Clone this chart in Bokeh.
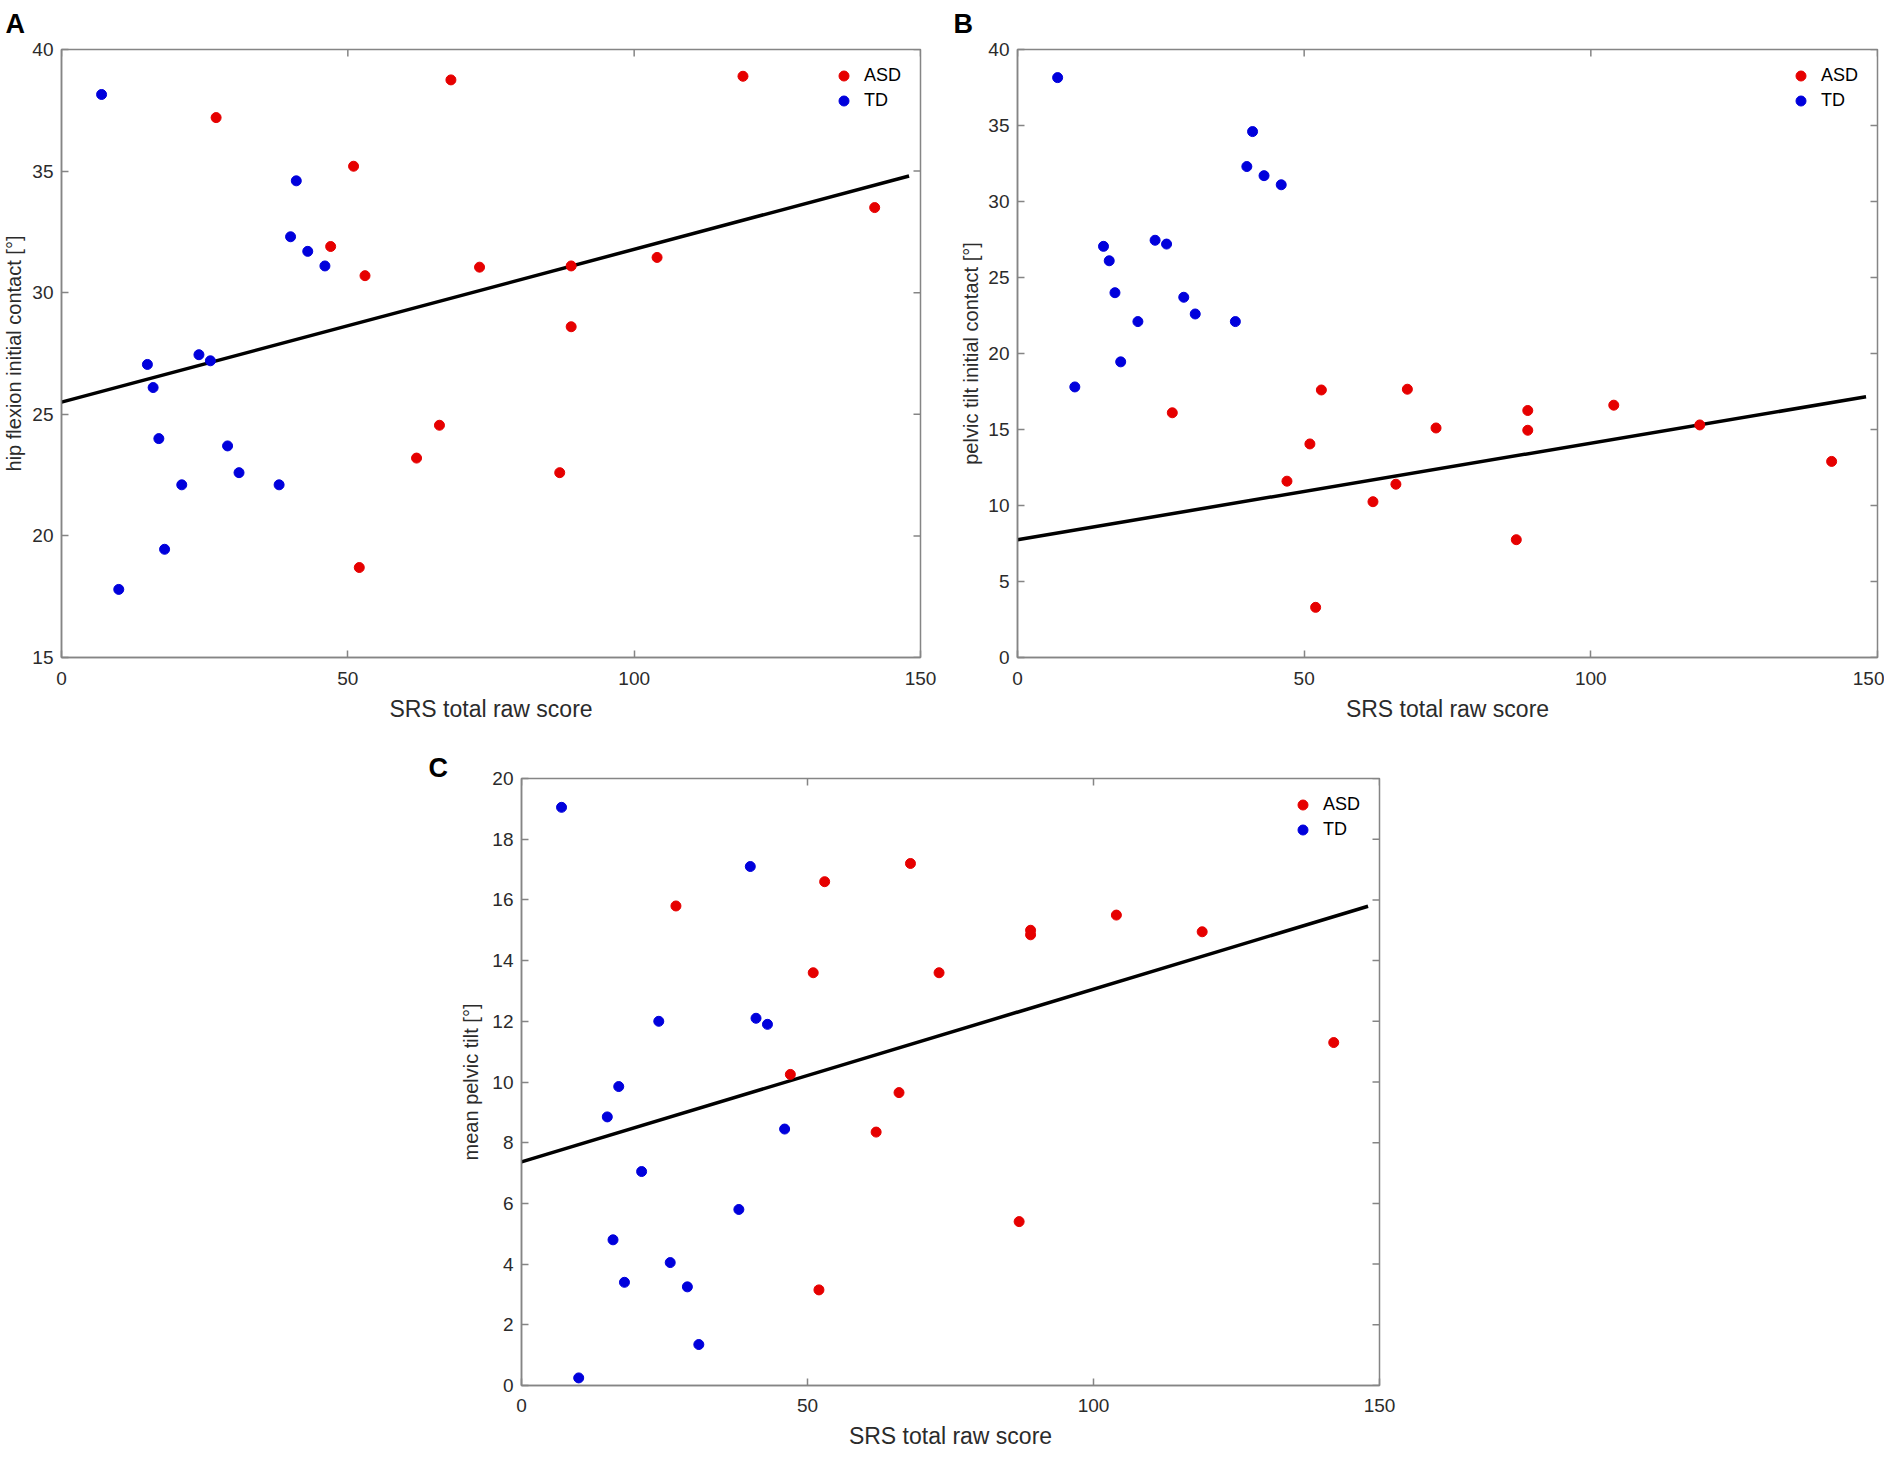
import math
from bokeh.plotting import figure
from bokeh.models import Range1d, Legend, LegendItem, Spacer, FixedTicker, Title
from bokeh.layouts import row, column
from bokeh.embed import file_html
from bokeh.resources import INLINE

# ---------------- data ----------------
srs_asd = [27, 47, 51, 52, 53, 62, 66, 68, 73, 87, 89, 89, 104, 119, 142]
srs_td = [7, 10, 15, 16, 17, 18, 21, 24, 26, 29, 31, 38, 40, 41, 43, 46]

hip_ic_asd = [37.2, 31.9, 35.2, 18.7, 30.7, 23.2, 24.55, 38.75, 31.05, 22.6, 31.1, 28.6, 31.45, 38.9, 33.5]
hip_ic_td = [38.15, 17.8, 27.05, 26.1, 24.0, 19.45, 22.1, 27.45, 27.2, 23.7, 22.6, 22.1, 32.3, 34.6, 31.7, 31.1]

pt_ic_asd = [16.1, 11.6, 14.05, 3.3, 17.6, 10.25, 11.4, 17.65, 15.1, 7.75, 16.25, 14.95, 16.6, 15.3, 12.9]
pt_ic_td = [38.15, 17.8, 27.05, 26.1, 24.0, 19.45, 22.1, 27.45, 27.2, 23.7, 22.6, 22.1, 32.3, 34.6, 31.7, 31.1]

mean_pt_asd = [15.8, 10.25, 13.6, 3.15, 16.6, 8.35, 9.65, 17.2, 13.6, 5.4, 15.0, 14.85, 15.5, 14.95, 11.3]
mean_pt_td = [19.05, 0.25, 8.85, 4.8, 9.85, 3.4, 7.05, 12.0, 4.05, 3.25, 1.35, 5.8, 17.1, 12.1, 11.9, 8.45]

fit_x = [0, 148]
hip_ic_fit = [25.5, 34.8]
pt_ic_fit = [7.75, 17.15]
mean_pt_fit = [7.37, 15.79]

x_ticks = [0, 50, 100, 150]
hip_ticks = [15, 20, 25, 30, 35, 40]
pt_ic_ticks = [0, 5, 10, 15, 20, 25, 30, 35, 40]
mean_pt_ticks = [0, 2, 4, 6, 8, 10, 12, 14, 16, 18, 20]

x_label = "SRS total raw score"
group_names = ["ASD", "TD"]

# ---------------- styles ----------------
FONT = "Liberation Sans"
AXC = "#858585"
TXT = "#2b2b2b"
RED = "#e60000"
BLUE = "#0000dc"


def style_axis(ax, ticks, label_standoff):
    ax.ticker = FixedTicker(ticks=ticks)
    ax.major_tick_in = 7
    ax.major_tick_out = 0
    ax.minor_tick_in = 0
    ax.minor_tick_out = 0
    ax.axis_line_color = AXC
    ax.axis_line_width = 1.5
    ax.major_tick_line_color = AXC
    ax.major_tick_line_width = 1.5
    ax.major_label_text_font = FONT
    ax.major_label_text_color = TXT
    ax.major_label_text_font_size = "19px"
    ax.major_label_standoff = label_standoff


def make_panel(letter, ylabel, y_asd, y_td, fit_y, yr, yticks,
               width, height, bl, bt, br, bb, ylab_standoff, xtick_standoff,
               letter_offset, letter_standoff):
    p = figure(width=width, height=height,
               x_range=Range1d(0, 150), y_range=Range1d(*yr),
               output_backend="svg", toolbar_location=None,
               min_border_left=bl, min_border_top=bt,
               min_border_right=br, min_border_bottom=bb,
               background_fill_color="white", border_fill_color="white")
    p.xgrid.visible = False
    p.ygrid.visible = False
    p.outline_line_color = AXC
    p.outline_line_width = 1.5

    xa = p.xaxis[0]
    ya = p.yaxis[0]
    style_axis(xa, x_ticks, xtick_standoff)
    style_axis(ya, yticks, 8)
    xa.axis_label = x_label
    xa.axis_label_text_font = FONT
    xa.axis_label_text_font_size = "23px"
    xa.axis_label_text_font_style = "normal"
    xa.axis_label_text_color = TXT
    xa.axis_label_standoff = 8
    ya.axis_label = ylabel
    ya.axis_label_text_font = FONT
    ya.axis_label_text_font_size = "20px"
    ya.axis_label_text_font_style = "normal"
    ya.axis_label_text_color = TXT
    ya.axis_label_standoff = ylab_standoff

    # inward ticks on the right and top edges of the box (half of each dash is clipped by the frame)
    xr_end = x_ticks[-1]
    yr_end = yticks[-1]
    p.scatter([xr_end] * len(yticks), yticks, marker="dash", size=14,
              line_color=AXC, line_width=1.5)
    p.scatter(x_ticks, [yr_end] * len(x_ticks), marker="dash", size=14,
              angle=math.pi / 2, line_color=AXC, line_width=1.5)

    p.line(fit_x, fit_y, line_color="black", line_width=3.5)
    r_asd = p.scatter(srs_asd, y_asd, size=10, fill_color=RED, line_color=RED)
    r_td = p.scatter(srs_td, y_td, size=10, fill_color=BLUE, line_color=BLUE)

    legend = Legend(items=[LegendItem(label=group_names[0], renderers=[r_asd]),
                           LegendItem(label=group_names[1], renderers=[r_td])],
                    location="top_right")
    legend.margin = 9
    legend.padding = 5
    legend.spacing = 0
    legend.glyph_width = 25
    legend.glyph_height = 25
    legend.label_height = 25
    legend.label_width = 42
    legend.label_standoff = 8
    legend.label_text_font = FONT
    legend.label_text_font_size = "18px"
    legend.label_text_color = "black"
    legend.border_line_alpha = 0
    legend.background_fill_alpha = 0
    p.add_layout(legend, "center")

    t = Title(text=letter, align="left", offset=letter_offset,
              vertical_align="top", standoff=letter_standoff,
              text_font=FONT, text_font_style="bold",
              text_font_size="27px", text_color="black")
    p.add_layout(t, "above")
    return p


pA = make_panel("A", "hip flexion initial contact [°]", hip_ic_asd, hip_ic_td, hip_ic_fit,
                (15, 40), hip_ticks, 950, 740, 61, 49, 30, 83, 4, 14, -56, 17)
pB = make_panel("B", "pelvic tilt initial contact [°]", pt_ic_asd, pt_ic_td, pt_ic_fit,
                (0, 40), pt_ic_ticks, 934, 740, 67, 49, 7, 82, 3, 14, -64, 17)
pC = make_panel("C", "mean pelvic tilt [°]", mean_pt_asd, mean_pt_td, mean_pt_fit,
                (0, 20), mean_pt_ticks, 999, 715, 101, 38, 40, 70, 7, 13, -93, -13)

layout = column(row(pA, pB), row(Spacer(width=420, height=715), pC))

open("out.html", "w").write(file_html(layout, INLINE))
